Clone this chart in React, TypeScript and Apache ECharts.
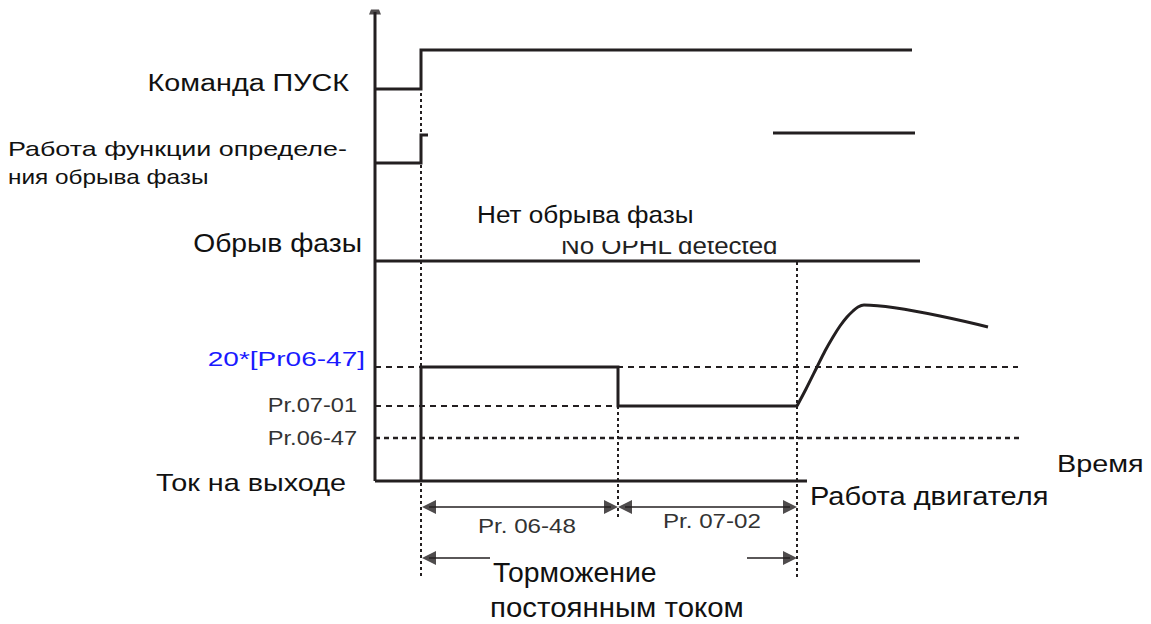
import React, { useEffect, useRef } from 'react';
import * as echarts from 'echarts';

// Diagram coordinates: x = time axis units, y = signal level units (downwards)
const valueAxis = [[375, 12], [375, 481]];
const timeBase = [[375, 481], [807, 481]];
const runCommand = [[375, 89], [421, 89], [421, 50], [912, 50]];
const phaseDetectBefore = [[375, 163], [421, 163], [421, 135], [428, 135]];
const phaseDetectAfter = [[773, 133], [915, 133]];
const phaseLoss = [[375, 261], [920, 261]];
const outputCurrent = [[421, 481], [421, 367], [618, 367], [618, 406], [797, 406]];
const motorCurrent = [
  [797, 406], [806, 389], [817, 367], [825, 351], [833, 337], [840, 326],
  [847, 317], [853, 311], [858, 307], [864, 305], [988, 327],
];
const levelValues = [367, 406, 438];
const levelEnds = [1018, 618, 1022];
const levelLabels = ['20*[Pr06-47]', 'Pr.07-01', 'Pr.06-47'];
const eventTimes = [421, 618, 797];
const eventSpans = [[75, 578], [406, 519], [262, 578]];
const intervalSpans = [[422, 618], [618, 797]];
const intervalLabels = ['Pr. 06-48', 'Pr. 07-02'];
const brakingArrows = [[490, 422], [747, 797]];
const signalNames = ['Команда ПУСК', 'Работа функции определе-', 'ния обрыва фазы', 'Обрыв фазы', 'Ток на выходе'];
const annotations = ['Нет обрыва фазы', 'No OPHL detected', 'Время', 'Работа двигателя', 'Торможение', 'постоянным током'];

const INK = '#231f20';
const FONT = '"Liberation Sans", Arial, sans-serif';

export default function App() {
  const ref = useRef<HTMLDivElement>(null);
  useEffect(() => {
    if (!ref.current) return;
    const chart = echarts.init(ref.current, undefined, { renderer: 'svg' });

    const solid = (data: number[][], width = 3, z = 5) => ({
      type: 'line', data, symbol: 'none', silent: true, z,
      lineStyle: { color: INK, width, cap: 'butt', join: 'miter' },
    });
    const patterned = (data: number[][], dash: number[], width = 2) => ({
      type: 'line', data, symbol: 'none', silent: true, z: 2,
      lineStyle: { color: INK, width, type: dash, cap: 'butt' },
    });

    const series: any[] = [
      solid(valueAxis, 3),
      solid(timeBase, 3),
      solid(runCommand),
      solid(phaseDetectBefore),
      solid(phaseDetectAfter),
      solid(phaseLoss),
      solid(outputCurrent),
      { ...solid(motorCurrent), smooth: 0.3 },
      {
        type: 'scatter', silent: true, z: 6,
        data: [valueAxis[0]],
        symbol: 'path://M2,0 L10,0 L12,4 L0,4 Z', symbolSize: [12, 5],
        itemStyle: { color: INK },
      },
    ];
    levelValues.forEach((lv, i) => {
      series.push(patterned([[375, lv], [levelEnds[i], lv]], i === 2 ? [5, 4] : [6, 5], i === 2 ? 2.5 : 2));
    });
    eventTimes.forEach((t, i) => {
      series.push(patterned([[t, eventSpans[i][0]], [t, eventSpans[i][1]]], [3, 3], 2));
    });

    // arrows: shafts + heads
    const half = 7;
    const heads: any[] = [];
    const shaft = (a: number, b: number, y: number) =>
      series.push({ ...solid([[a, y], [b, y]], 1.5, 4) });
    intervalSpans.forEach(([a, b]) => {
      shaft(a + half, b - half, 507);
      heads.push({ value: [a + half, 507], symbolRotate: 90 });
      heads.push({ value: [b - half, 507], symbolRotate: -90 });
    });
    brakingArrows.forEach(([a, b]) => {
      const dir = b > a ? 1 : -1;
      shaft(a, b - dir * half, 558);
      heads.push({ value: [b - dir * half, 558], symbolRotate: dir > 0 ? -90 : 90 });
    });
    series.push({
      type: 'scatter', silent: true, z: 6, data: heads,
      symbol: 'triangle', symbolSize: [14, 14],
      itemStyle: { color: INK },
    });

    const txt = (text: string, x: number, y: number, size: number, sx: number, align = 'left', fill = '#111') => ({
      type: 'text', x, y, scaleX: sx, z: 10, silent: true,
      style: { text, fill, font: `${size}px ${FONT}`, textAlign: align, textVerticalAlign: 'middle' },
    });

    const graphic: any[] = [
      txt(signalNames[0], 349, 83, 23, 1.25, 'right'),
      txt(signalNames[1], 8, 149, 21, 1.28, 'left'),
      txt(signalNames[2], 8, 177, 21, 1.16, 'left'),
      txt(signalNames[3], 362, 244, 25, 1.13, 'right'),
      txt(signalNames[4], 346, 483, 24, 1.2, 'right'),
      txt(levelLabels[0], 365, levelValues[0] - 8, 20, 1.4, 'right', '#1a1aff'),
      txt(levelLabels[1], 357, levelValues[1] - 1, 20, 1.18, 'right', '#333'),
      txt(levelLabels[2], 357, levelValues[2], 20, 1.18, 'right', '#333'),
      txt(annotations[0], 477, 214, 24, 1.09, 'left'),
      txt(annotations[1], 561, 245, 24, 1.08, 'left', '#222'),
      { type: 'rect', z: 11, silent: true, shape: { x: 550, y: 229, width: 240, height: 12 }, style: { fill: '#fff' } },
      txt(annotations[2], 1057, 464, 24, 1.2, 'left'),
      txt(annotations[3], 810, 496, 25, 1.16, 'left'),
      txt(intervalLabels[0], 478, 526, 21, 1.15, 'left', '#333'),
      txt(intervalLabels[1], 663, 521, 21, 1.15, 'left', '#333'),
      txt(annotations[4], 493, 573, 27, 1.05, 'left'),
      txt(annotations[5], 490, 607, 27, 1.09, 'left'),
    ];

    chart.setOption({
      animation: false,
      backgroundColor: '#fff',
      grid: { left: 0, right: 0, top: 0, bottom: 0 },
      xAxis: { type: 'value', min: 0, max: 1151, show: false },
      yAxis: { type: 'value', min: 0, max: 624, inverse: true, show: false },
      series,
      graphic,
    });
    return () => chart.dispose();
  }, []);
  return <div ref={ref} style={{ position: 'absolute', left: 0, top: 0, width: 1151, height: 624, background: '#fff' }} />;
}
